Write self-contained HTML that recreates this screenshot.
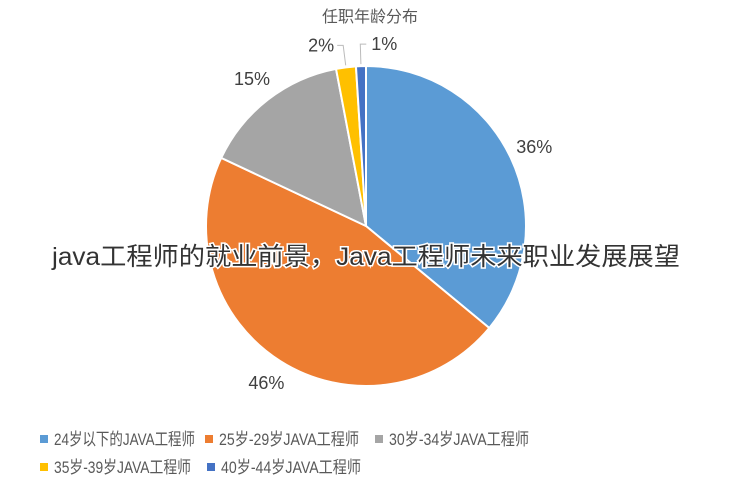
<!DOCTYPE html>
<html><head><meta charset="utf-8"><style>
body{margin:0;width:735px;height:490px;background:#fff;overflow:hidden;font-family:"Liberation Sans","Noto Sans CJK SC",sans-serif}
svg{position:absolute;left:0;top:0}
</style></head><body>
<svg id="c" width="735" height="490">
<text x="370" y="22" text-anchor="middle" font-size="16" fill="#595959" font-family="Liberation Sans, Noto Sans CJK SC, sans-serif">任职年龄分布</text>
<g id="slices"></g><g id="labels"></g><g id="legend"></g>
<text x="52" y="265" font-size="25" textLength="628" lengthAdjust="spacingAndGlyphs" fill="#333" stroke="#fff" stroke-width="3" paint-order="stroke" font-family="Liberation Sans, Noto Sans CJK SC, sans-serif">java工程师的就业前景，Java工程师未来职业发展展望</text>
</svg>
<script>
const categories=["24岁以下的JAVA工程师","25岁-29岁JAVA工程师","30岁-34岁JAVA工程师","35岁-39岁JAVA工程师","40岁-44岁JAVA工程师"];
const values=[36,46,15,2,1];
const colors=["#5B9BD5","#ED7D31","#A5A5A5","#FFC000","#4472C4"];
const NS="http://www.w3.org/2000/svg";
const cx=366,cy=226,r=160;
const total=values.reduce((a,b)=>a+b,0);
const sg=document.getElementById('slices'),lg=document.getElementById('labels'),leg=document.getElementById('legend');
function pt(a,rr){return [cx+rr*Math.sin(a),cy-rr*Math.cos(a)];}
let a0=0;
values.forEach((v,i)=>{
  const a1=a0+v/total*2*Math.PI;
  const p0=pt(a0,r),p1=pt(a1,r);
  const p=document.createElementNS(NS,'path');
  p.setAttribute('d',`M${cx},${cy}L${p0[0]},${p0[1]}A${r},${r} 0 ${a1-a0>Math.PI?1:0} 1 ${p1[0]},${p1[1]}Z`);
  p.setAttribute('fill',colors[i]);p.setAttribute('stroke','#fff');p.setAttribute('stroke-width','2');
  
  
  sg.appendChild(p);
  const m=(a0+a1)/2;
  let lp;
  if(v<5){
    const e=pt(m,r+2),k=pt(m,r+22);
    const ln=document.createElementNS(NS,'polyline');
    const hx=k[0]+(i===3?-6:6);
    ln.setAttribute('points',`${e[0]},${e[1]} ${k[0]},${k[1]} ${hx},${k[1]}`);
    ln.setAttribute('fill','none');ln.setAttribute('stroke','#bbb');
    
    
    lg.appendChild(ln);
    lp=[hx+(i===3?-16:18),k[1]+6];
  } else {lp=pt(m,r+26);lp[1]+=6;}
  const t=document.createElementNS(NS,'text');
  t.setAttribute('x',lp[0]);t.setAttribute('y',lp[1]);t.setAttribute('text-anchor','middle');
  t.setAttribute('font-size','18');t.setAttribute('fill','#404040');
  t.textContent=v+'%';
  
  
  lg.appendChild(t);
  a0=a1;
});
const lx=[40,205,375,40,207],ly=[439,439,439,467,467],lw=[141,140,140,137,140];
categories.forEach((c,i)=>{
  const g=document.createElementNS(NS,'g');
  
  
  const s=document.createElementNS(NS,'rect');
  s.setAttribute('x',lx[i]);s.setAttribute('y',ly[i]-4);s.setAttribute('width',8);s.setAttribute('height',8);s.setAttribute('fill',colors[i]);
  const t=document.createElementNS(NS,'text');
  t.setAttribute('x',lx[i]+14);t.setAttribute('y',ly[i]+6);t.setAttribute('font-size','17');t.setAttribute('fill','#595959');
  t.setAttribute('textLength',lw[i]);t.setAttribute('lengthAdjust','spacingAndGlyphs');
  t.textContent=c;
  g.appendChild(s);g.appendChild(t);leg.appendChild(g);
});
</script>
</body></html>
